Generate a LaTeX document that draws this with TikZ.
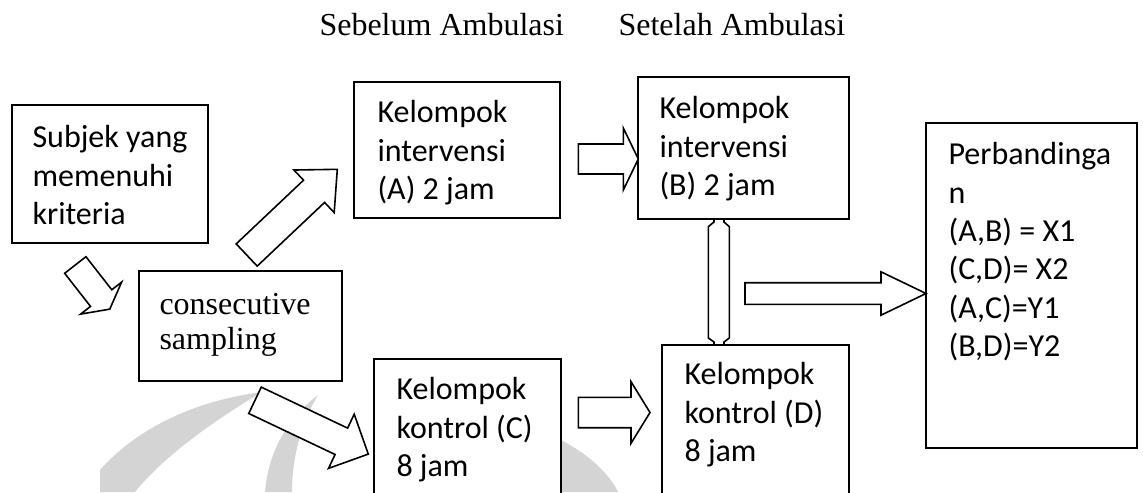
\documentclass[tikz,border=0pt]{standalone}
\usepackage{fontspec}
\setmainfont{Liberation Serif}
\newfontfamily\calibri{Carlito}
\usepackage{tikz}
\usetikzlibrary{fit}
\definecolor{wm}{RGB}{212,212,212}
\newcommand{\blockarrow}[6]{\draw[line width=0.6pt,fill=white,shift={#1},rotate=#2] (0,-#4)--(#3-#6,-#4)--(#3-#6,-#5)--(#3,0)--(#3-#6,#5)--(#3-#6,#4)--(0,#4)--cycle;}
\newcommand{\boxtext}[4]{\node[anchor=north west,inner sep=0pt,align=left,font=\calibri\fontsize{12}{14.4}\selectfont] (#1) at (#2,#3) {#4};}
\tikzset{frame/.style={draw,fill=white,line width=0.7pt,inner sep=0pt}}

\begin{document}
\begin{tikzpicture}[x=0.375pt,y=-0.375pt]
\useasboundingbox (0,0) rectangle (1143,492);
\clip (0,0) rectangle (1143,492);
\fill[wm] (100,470) .. controls (140,425) and (200,400) .. (262,392) .. controls (215,420) and (165,455) .. (135,492) -- (100,492) -- cycle;
\fill[wm] (318,395) .. controls (285,420) and (268,455) .. (265,492) -- (292,492) .. controls (292,460) and (300,425) .. (318,395) -- cycle;
\fill[wm] (561,440) .. controls (590,455) and (610,475) .. (618,492) -- (561,492) -- cycle;
\node[frame,fit={(12,105) (208,243)}] (subjek) {};
\node[frame,fit={(139,271) (342,381)}] (sampling) {};
\node[frame,fit={(354,82) (560,218)}] (intA) {};
\node[frame,fit={(638,77) (849,219)}] (intB) {};
\node[frame,fit={(374,359) (561,520)}] (konC) {};
\node[frame,fit={(662,345) (849,520)}] (konD) {};
\node[frame,fit={(926,123) (1137,448)}] (banding) {};
\node[anchor=base west,inner sep=0pt,font=\fontsize{12}{14}\selectfont] (sebelum) at (319,36) {Sebelum Ambulasi};
\node[anchor=base west,inner sep=0pt,font=\fontsize{12}{14}\selectfont] (setelah) at (618,36) {Setelah Ambulasi};
\node[anchor=north west,inner sep=0pt,align=left,font=\fontsize{12}{13}\selectfont] (samplingtxt) at (159,293) {consecutive\\sampling};
\boxtext{subjektxt}{32}{125}{Subjek yang\\memenuhi\\kriteria}
\boxtext{intAtxt}{377}{100}{Kelompok\\intervensi\\(A) 2 jam}
\boxtext{intBtxt}{659}{96}{Kelompok\\intervensi\\(B) 2 jam}
\boxtext{konCtxt}{396}{377}{Kelompok\\kontrol (C)\\8 jam}
\boxtext{konDtxt}{684}{362}{Kelompok\\kontrol (D)\\8 jam}
\boxtext{bandingtxt}{948}{142}{Perbandinga\\n\\(A,B) = X1\\(C,D)= X2\\(A,C)=Y1\\(B,D)=Y2}
\blockarrow{(75.3,265)}{-52}{56}{13.5}{26}{14}
\blockarrow{(246.7,255)}{43.4}{124.7}{15.3}{29.3}{32}
\blockarrow{(255,400.3)}{-25.4}{125.4}{14.6}{30}{29.8}
\blockarrow{(578.3,159)}{0}{60}{15}{31}{15}
\blockarrow{(578.3,412.5)}{0}{71.7}{15.2}{30.8}{19}
\blockarrow{(745,293.5)}{0}{181}{10.8}{21.7}{45}
\draw[line width=0.6pt,fill=white] (708.3,226.7)--(714,222)--(714,219)--(724,219)--(724,222)--(729.3,226.7)--(729.3,338)--(724,342)--(724,345)--(714,345)--(714,342)--(708.3,338)--cycle;
\end{tikzpicture}
\end{document}
